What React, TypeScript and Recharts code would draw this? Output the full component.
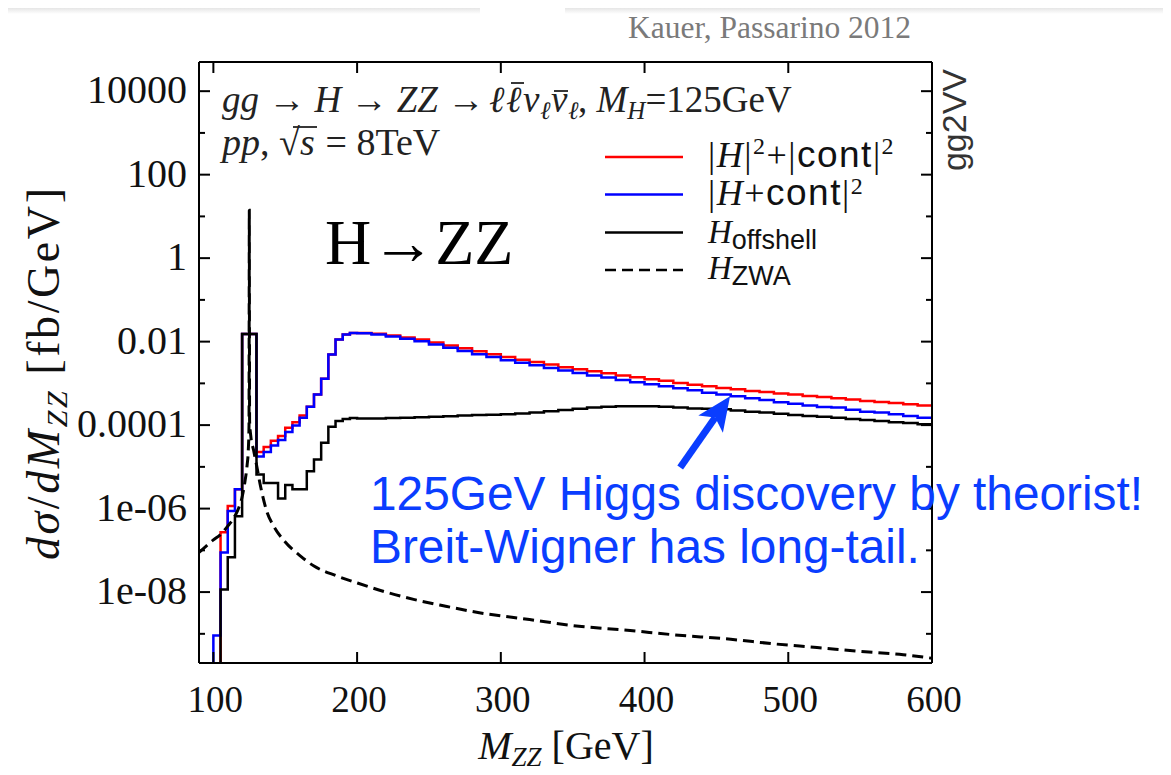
import React from "react";
import { LineChart, Line, XAxis, YAxis, ReferenceLine } from "recharts";

const WIDTH = 1171;
const HEIGHT = 775;

const SERIF = '"Liberation Serif", "DejaVu Serif", serif';
const SANS = '"Liberation Sans", Arial, sans-serif';
const NOTE_BLUE = "#0a3dff";
const INK = "#222";

// lower bin edges in GeV (the last entry only closes the final bin)
const BIN_EDGES = [
  95, 100, 105, 110, 115, 120, 125, 130, 135, 140, 145, 150, 155, 160, 165,
  170, 175, 180, 185, 190, 195, 200, 210, 220, 230, 240, 250, 260, 270, 280,
  290, 300, 310, 320, 330, 340, 350, 360, 370, 380, 390, 400, 410, 420, 430,
  440, 450, 460, 470, 480, 490, 500, 510, 520, 530, 540, 550, 560, 570, 580,
  590, 600,
];

// empty bins sit far below the axis floor and get clipped
const EMPTY = 1e-12;

// |H|^2 + |cont|^2  [fb/GeV]
const SUM_SQUARES = [
  EMPTY, EMPTY, 2.7e-7, 1.15e-6, 2.9e-6, 1.53e-2, 1.53e-2, 2.26e-5, 3.0e-5, 4.2e-5, 5.5e-5, 8.7e-5, 1.17e-4, 1.7e-4, 2.75e-4,
  5.4e-4, 1.29e-3, 4.9e-3, 1.12e-2, 1.48e-2, 1.62e-2, 1.62e-2, 1.55e-2, 1.41e-2, 1.26e-2, 1.12e-2, 9.5e-3, 8.1e-3, 6.9e-3, 5.9e-3,
  5.0e-3, 4.3e-3, 3.7e-3, 3.24e-3, 2.82e-3, 2.45e-3, 2.19e-3, 1.95e-3, 1.74e-3, 1.55e-3, 1.41e-3, 1.26e-3, 1.15e-3, 1.02e-3, 9.3e-4,
  8.5e-4, 7.8e-4, 7.2e-4, 6.6e-4, 6.2e-4, 5.75e-4, 5.4e-4, 5.0e-4, 4.7e-4, 4.4e-4, 4.1e-4, 3.8e-4, 3.6e-4, 3.4e-4, 3.16e-4,
  2.95e-4, 2.95e-4,
];

// |H + cont|^2  [fb/GeV]
const FULL_INTERFERENCE = [
  EMPTY, 9.1e-10, 8.9e-8, 8.7e-7, 2.9e-6, 1.53e-2, 1.53e-2, 1.76e-5, 2.26e-5, 3.27e-5, 4.4e-5, 6.8e-5, 9.8e-5, 1.51e-4, 2.75e-4,
  5.4e-4, 1.29e-3, 4.9e-3, 1.12e-2, 1.48e-2, 1.6e-2, 1.58e-2, 1.48e-2, 1.32e-2, 1.17e-2, 1.02e-2, 8.5e-3, 7.1e-3, 6.0e-3, 5.0e-3,
  4.3e-3, 3.6e-3, 3.1e-3, 2.7e-3, 2.34e-3, 2.04e-3, 1.78e-3, 1.55e-3, 1.38e-3, 1.2e-3, 1.07e-3, 9.5e-4, 8.5e-4, 7.6e-4, 6.8e-4,
  6.0e-4, 5.4e-4, 4.9e-4, 4.4e-4, 4.0e-4, 3.55e-4, 3.24e-4, 2.95e-4, 2.7e-4, 2.63e-4, 2.34e-4, 2.09e-4, 2.0e-4, 1.82e-4, 1.66e-4,
  1.51e-4, 1.51e-4,
];

// H offshell  [fb/GeV]
const OFFSHELL = [
  EMPTY, EMPTY, 1.15e-8, 6.8e-8, 6.6e-7, 1.53e-2, 1.53e-2, 6.6e-6, 4.1e-6, 4.1e-6, 1.74e-6, 3.7e-6, 2.9e-6, 2.9e-6, 7.9e-6,
  1.51e-5, 3.8e-5, 9.1e-5, 1.26e-4, 1.41e-4, 1.48e-4, 1.45e-4, 1.45e-4, 1.48e-4, 1.51e-4, 1.55e-4, 1.58e-4, 1.62e-4, 1.7e-4, 1.74e-4,
  1.78e-4, 1.82e-4, 1.91e-4, 2.0e-4, 2.14e-4, 2.29e-4, 2.45e-4, 2.63e-4, 2.75e-4, 2.82e-4, 2.82e-4, 2.82e-4, 2.75e-4, 2.63e-4, 2.5e-4,
  2.45e-4, 2.4e-4, 2.24e-4, 2.09e-4, 2.0e-4, 1.86e-4, 1.74e-4, 1.66e-4, 1.58e-4, 1.51e-4, 1.41e-4, 1.32e-4, 1.26e-4, 1.17e-4, 1.12e-4,
  1.05e-4, 1.05e-4,
];

// zero-width approximation curve
const ZWA_MASS = [
  90, 95, 100, 105, 110, 115, 118, 120, 122, 123.5, 124.3, 124.8, 125, 125.2, 126, 128, 130, 133, 137, 142,
  150, 160, 170, 185, 200, 220, 240, 260, 285, 320, 350, 390, 420, 460, 490, 520, 550, 580, 600,
];
const ZWA_VALUE = [
  8.9e-8, 1.26e-7, 1.78e-7, 2.4e-7, 3.8e-7, 6.6e-7, 1.12e-6, 1.9e-6, 4.5e-6, 1.12e-5, 2.5e-5, 1.0e-4, 14, 1.26e-4, 5.6e-5, 2.5e-5, 1.12e-5, 3.2e-6, 8.9e-7, 3.8e-7,
  1.58e-7, 7.6e-8, 4.2e-8, 2.5e-8, 1.66e-8, 1.0e-8, 6.6e-9, 4.7e-9, 3.2e-9, 2.2e-9, 1.58e-9, 1.2e-9, 9.5e-10, 7.4e-10, 5.75e-10, 4.7e-10, 3.8e-10, 3.16e-10, 2.6e-10,
];

const X_TICKS = [100, 200, 300, 400, 500, 600];
const Y_TICKS = [1e-9, 1e-8, 1e-7, 1e-6, 1e-5, 1e-4, 1e-3, 1e-2, 1e-1, 1, 10, 100, 1000, 10000];
const Y_TICK_LABELS = ["", "1e-08", "", "1e-06", "", "0.0001", "", "0.01", "", "1", "", "100", "", "10000"];

const toRows = (xs: number[], ys: number[]) => xs.map((m, i) => ({ m, v: ys[i] }));

const sumRows = toRows(BIN_EDGES, SUM_SQUARES);
const fullRows = toRows(BIN_EDGES, FULL_INTERFERENCE);
const offshellRows = toRows(BIN_EDGES, OFFSHELL);
const zwaRows = toRows(ZWA_MASS, ZWA_VALUE);

const LEFT_GAP = 12;

function LeftTick(props: any) {
  const { x, y, index } = props;
  const label = Y_TICK_LABELS[index];
  const x0 = x + LEFT_GAP;
  return (
    <g>
      <line x1={x0} x2={x0 + (label ? 11 : 6)} y1={y} y2={y} stroke="#000" strokeWidth={2} />
      {label && (
        <text x={x} y={y} dy={12} textAnchor="end" fontFamily={SERIF} fontSize={40} fill="#111">
          {label}
        </text>
      )}
    </g>
  );
}

function RightTick(props: any) {
  const { x, y, index } = props;
  const len = Y_TICK_LABELS[index] ? 11 : 6;
  return <line x1={x - len} x2={x} y1={y} y2={y} stroke="#000" strokeWidth={2} />;
}

function BottomTick(props: any) {
  const { x, y, payload } = props;
  return (
    <g>
      <line x1={x} x2={x} y1={y} y2={y - 11} stroke="#000" strokeWidth={2} />
      <text x={x + 2} y={y + 49} textAnchor="middle" fontFamily={SERIF} fontSize={37} fill="#111">
        {payload.value}
      </text>
    </g>
  );
}

function TopTick(props: any) {
  const { x, y } = props;
  return <line x1={x} x2={x} y1={y} y2={y + 11} stroke="#000" strokeWidth={2} />;
}

function ArrowShape(props: any) {
  const { x1, y1, x2, y2 } = props;
  const dx = x2 - x1;
  const dy = y2 - y1;
  const len = Math.hypot(dx, dy);
  const ux = dx / len;
  const uy = dy / len;
  const head = 34;
  const half = 15;
  const bx = x2 - ux * head;
  const by = y2 - uy * head;
  const px = -uy;
  const py = ux;
  const nx = bx + ux * 8;
  const ny = by + uy * 8;
  return (
    <g>
      <line x1={x1} y1={y1} x2={nx} y2={ny} stroke={NOTE_BLUE} strokeWidth={7} />
      <polygon
        points={`${x2},${y2} ${bx + px * half},${by + py * half} ${nx},${ny} ${bx - px * half},${by - py * half}`}
        fill={NOTE_BLUE}
      />
    </g>
  );
}

const axisLine = { stroke: "#000", strokeWidth: 2 };

function Overlay() {
  const sup = 24;
  const mathSub = 25;
  return (
    <svg
      width={WIDTH}
      height={HEIGHT}
      style={{ position: "absolute", left: 0, top: 0, pointerEvents: "none" }}
    >
      <text x={628} y={38} fontFamily={SERIF} fontSize={31.5} fill="#7a7a7a">
        Kauer, Passarino 2012
      </text>

      {/* process line; leptons placed glyph by glyph so the bars can sit on top */}
      <text x={222} y={112} fontFamily={SERIF} fontSize={37} fill={INK}>
        <tspan fontStyle="italic">gg</tspan>
        <tspan>{" → "}</tspan>
        <tspan fontStyle="italic">H</tspan>
        <tspan>{" → "}</tspan>
        <tspan fontStyle="italic">ZZ</tspan>
        <tspan>{" →"}</tspan>
        <tspan fontStyle="italic" x={489}>ℓ</tspan>
        <tspan fontStyle="italic" x={506}>ℓ</tspan>
        <tspan fontStyle="italic" x={523}>ν</tspan>
        <tspan fontStyle="italic" fontSize={mathSub} x={540} dy={7}>ℓ</tspan>
        <tspan fontStyle="italic" x={551} dy={-7}>ν</tspan>
        <tspan fontStyle="italic" fontSize={mathSub} x={568} dy={7}>ℓ</tspan>
        <tspan x={578} dy={-7}>{", "}</tspan>
        <tspan fontStyle="italic">M</tspan>
        <tspan fontStyle="italic" fontSize={mathSub} dy={7}>H</tspan>
        <tspan dy={-7}>=125GeV</tspan>
      </text>
      <line x1={511} x2={524} y1={83} y2={83} stroke={INK} strokeWidth={1.8} />
      <line x1={554} x2={568} y1={91} y2={91} stroke={INK} strokeWidth={1.8} />

      <text x={222} y={155} fontFamily={SERIF} fontSize={38} fill={INK}>
        <tspan fontStyle="italic">pp</tspan>
        <tspan>{", √"}</tspan>
        <tspan fontStyle="italic" x={300}>s</tspan>
        <tspan x={316}>{" = 8TeV"}</tspan>
      </text>
      <line x1={293} x2={317} y1={127} y2={127} stroke={INK} strokeWidth={1.8} />

      <text x={325} y={264} fontFamily={SERIF} fontSize={64} fill="#000">
        H→ZZ
      </text>

      {/* legend */}
      <line x1={605} x2={683} y1={157} y2={157} stroke="#ff0000" strokeWidth={2.5} />
      <line x1={605} x2={683} y1={194.5} y2={194.5} stroke="#0000ff" strokeWidth={2.5} />
      <line x1={605} x2={683} y1={232.5} y2={232.5} stroke="#000" strokeWidth={2.5} />
      <line x1={605} x2={683} y1={270} y2={270} stroke="#000" strokeWidth={2.5} strokeDasharray="11 6" />
      <text x={708} y={167} fontFamily={SERIF} fontSize={36} fill="#111" letterSpacing={1.5}>
        <tspan>|</tspan>
        <tspan fontStyle="italic">H</tspan>
        <tspan>|</tspan>
        <tspan fontSize={sup} dy={-13}>2</tspan>
        <tspan dy={13}>+|</tspan>
        <tspan fontFamily={SANS} fontSize={37}>cont</tspan>
        <tspan>|</tspan>
        <tspan fontSize={sup} dy={-13}>2</tspan>
      </text>
      <text x={708} y={205} fontFamily={SERIF} fontSize={36} fill="#111" letterSpacing={1.5}>
        <tspan>|</tspan>
        <tspan fontStyle="italic">H</tspan>
        <tspan>+</tspan>
        <tspan fontFamily={SANS} fontSize={37}>cont</tspan>
        <tspan>|</tspan>
        <tspan fontSize={sup} dy={-11}>2</tspan>
      </text>
      <text x={708} y={243} fontFamily={SERIF} fontSize={33} fill="#111">
        <tspan fontStyle="italic">H</tspan>
        <tspan fontFamily={SANS} fontSize={27} dy={6}>offshell</tspan>
      </text>
      <text x={708} y={279} fontFamily={SERIF} fontSize={33} fill="#111">
        <tspan fontStyle="italic">H</tspan>
        <tspan fontFamily={SANS} fontSize={27} dy={6}>ZWA</tspan>
      </text>

      <text
        transform="rotate(-90)"
        x={-120}
        y={966}
        textAnchor="middle"
        fontFamily={SANS}
        fontSize={34}
        fill="#333"
      >
        gg2VV
      </text>

      {/* axis titles */}
      <text
        transform="rotate(-90)"
        x={-374}
        y={59}
        textAnchor="middle"
        fontFamily={SERIF}
        fontSize={46}
        fill="#111"
        textLength={372}
        lengthAdjust="spacing"
      >
        <tspan fontStyle="italic">dσ</tspan>
        <tspan>/</tspan>
        <tspan fontStyle="italic">dM</tspan>
        <tspan fontStyle="italic" fontSize={30} dy={8}>ZZ</tspan>
        <tspan dy={-8}>{" [fb/GeV]"}</tspan>
      </text>
      <text x={566} y={759} textAnchor="middle" fontFamily={SERIF} fontSize={40} fill="#111">
        <tspan fontStyle="italic">M</tspan>
        <tspan fontStyle="italic" fontSize={27} dy={7}>ZZ</tspan>
        <tspan dy={-7}>{" [GeV]"}</tspan>
      </text>

      {/* note */}
      <text x={370} y={510} fontFamily={SANS} fontSize={47.8} fill={NOTE_BLUE}>
        125GeV Higgs discovery by theorist!
      </text>
      <text x={370} y={563} fontFamily={SANS} fontSize={47.8} fill={NOTE_BLUE}>
        Breit-Wigner has long-tail.
      </text>
    </svg>
  );
}

export default function App() {
  const shade = "linear-gradient(#c4c4c4, rgba(255,255,255,0))";
  return (
    <div
      style={{
        position: "relative",
        width: WIDTH,
        height: HEIGHT,
        margin: -8,
        background: "#fff",
        overflow: "hidden",
      }}
    >
      <div style={{ position: "absolute", left: 0, top: 0, width: 480, height: 14, background: shade }} />
      <div style={{ position: "absolute", left: 565, top: 0, width: WIDTH - 565, height: 14, background: shade }} />
      {/* plot frame: left 199, top 62, right 932, bottom 663 */}
      <LineChart width={WIDTH} height={HEIGHT} margin={{ top: 32, right: 179, bottom: 82, left: 139 }}>
        <XAxis
          xAxisId={0}
          type="number"
          dataKey="m"
          domain={[90, 600]}
          ticks={X_TICKS}
          interval={0}
          allowDataOverflow
          height={30}
          tickSize={0}
          tickMargin={0}
          tickLine={false}
          axisLine={axisLine}
          tick={(p: any) => <BottomTick {...p} />}
        />
        <XAxis
          xAxisId="top"
          orientation="top"
          type="number"
          dataKey="m"
          domain={[90, 600]}
          ticks={X_TICKS}
          interval={0}
          allowDataOverflow
          height={30}
          tickSize={0}
          tickMargin={0}
          tickLine={false}
          axisLine={axisLine}
          tick={(p: any) => <TopTick {...p} />}
        />
        <YAxis
          yAxisId={0}
          type="number"
          scale="log"
          domain={[2e-10, 5e4]}
          ticks={Y_TICKS}
          interval={0}
          allowDataOverflow
          width={60}
          tickSize={0}
          tickMargin={LEFT_GAP}
          tickLine={false}
          axisLine={axisLine}
          tick={(p: any) => <LeftTick {...p} />}
        />
        <YAxis
          yAxisId="right"
          orientation="right"
          type="number"
          scale="log"
          domain={[2e-10, 5e4]}
          ticks={Y_TICKS}
          interval={0}
          allowDataOverflow
          width={60}
          tickSize={0}
          tickMargin={0}
          tickLine={false}
          axisLine={axisLine}
          tick={(p: any) => <RightTick {...p} />}
        />
        <Line
          data={sumRows}
          dataKey="v"
          type="stepAfter"
          stroke="#ff0000"
          strokeWidth={2.5}
          dot={false}
          isAnimationActive={false}
        />
        <Line
          data={fullRows}
          dataKey="v"
          type="stepAfter"
          stroke="#0000ff"
          strokeWidth={2.5}
          dot={false}
          isAnimationActive={false}
        />
        <Line
          data={offshellRows}
          dataKey="v"
          type="stepAfter"
          stroke="#000"
          strokeWidth={2.5}
          dot={false}
          isAnimationActive={false}
        />
        <Line
          data={zwaRows}
          dataKey="v"
          type="monotone"
          stroke="#000"
          strokeWidth={3}
          strokeDasharray="11 6"
          dot={false}
          isAnimationActive={false}
        />
        <ReferenceLine
          segment={[
            { x: 424.8, y: 9.6e-6 },
            { x: 459.5, y: 4.93e-4 },
          ]}
          shape={(p: any) => <ArrowShape {...p} />}
        />
      </LineChart>
      <Overlay />
    </div>
  );
}
